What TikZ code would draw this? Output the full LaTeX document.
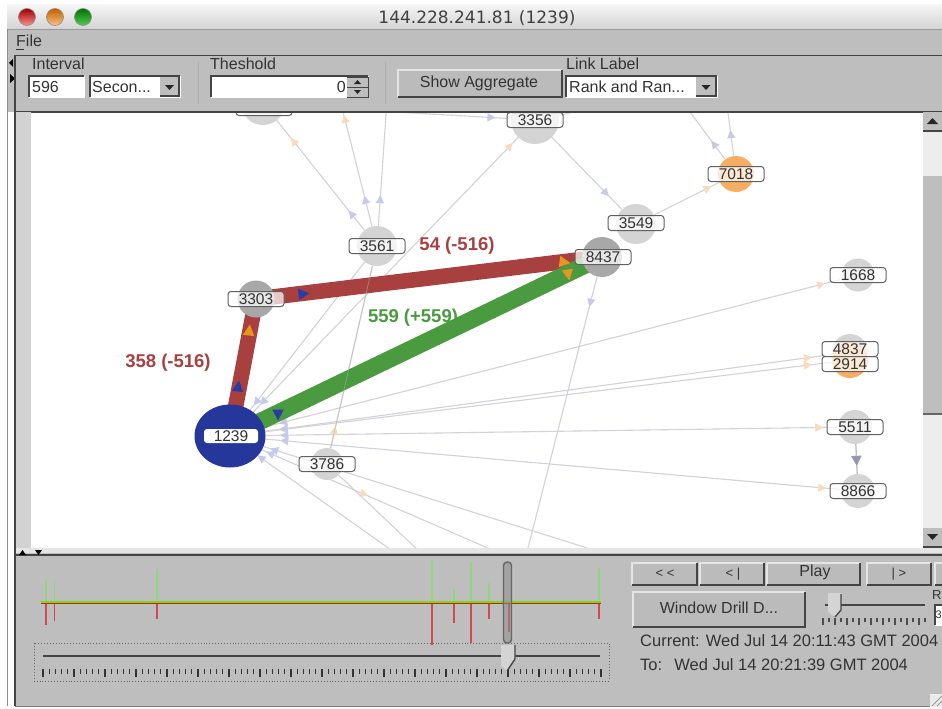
\documentclass[tikz,border=0pt]{standalone}
\usepackage{fontspec}
\setmainfont{Liberation Sans}
\newfontfamily\titlefont{DejaVu Sans}
\usetikzlibrary{shapes.geometric,calc}
\pgfdeclarelayer{canvaslayer}
\pgfdeclarelayer{edgelayer}
\pgfdeclarelayer{chrome}
\pgfsetlayers{canvaslayer,edgelayer,main,chrome}
\definecolor{panelc}{HTML}{BEBEBE}
\definecolor{darkc}{HTML}{444444}
\definecolor{textc}{HTML}{333333}
\definecolor{edgec}{HTML}{D2D2D8}
\definecolor{paleblue}{HTML}{C6C9E8}
\definecolor{paleorange}{HTML}{F9DABB}
\definecolor{tipblue}{HTML}{2B3BA3}
\definecolor{tiporange}{HTML}{E8951F}
\definecolor{redlink}{HTML}{A8403F}
\definecolor{greenlink}{HTML}{4A9A3F}
\definecolor{rednode}{HTML}{A8A8A8}
\definecolor{lightnode}{HTML}{D4D4D4}
\definecolor{orangenode}{HTML}{F6AE62}
\definecolor{navy}{HTML}{26379B}
\definecolor{tickgreen}{HTML}{8FD67F}
\definecolor{tickred}{HTML}{CE4A4F}
\tikzset{
  x=1pt,y=-1pt,
  asnode/.style={circle,inner sep=0pt,minimum size=#1,fill=lightnode},
  bigas/.style={asnode=#1,fill=rednode},
  asorange/.style={asnode=#1,fill=orangenode},
  aslabel/.style={draw=darkc!85,line width=1pt,rounded corners=3pt,fill=white,fill opacity=.72,text opacity=1,
     inner sep=0pt,minimum width=56pt,minimum height=15pt,font=\fontsize{15.5}{16}\selectfont,text=black!80},
  lnk/.style={draw=edgec,line width=1.1pt},
  tipbase/.style={isosceles triangle,isosceles triangle apex angle=55,inner sep=0pt,minimum size=8pt,sloped,draw=none,anchor=center,allow upside down},
  ptipf/.style={tipbase,fill=paleorange},
  ptipb/.style={tipbase,fill=paleblue,shape border rotate=180},
  ptipfb/.style={tipbase,fill=paleblue},
  ttip/.style={tipbase,fill=#1,minimum size=11pt},
  redthick/.style={draw=redlink,line width=15.5pt},
  greenthick/.style={draw=greenlink,line width=17pt},
  ui/.style={font=\fontsize{16}{18}\selectfont,text=textc,inner sep=0pt},
  timetext/.style={font=\fontsize{16.5}{18}\selectfont,text=textc,inner sep=0pt},
  biglabel/.style={font=\fontsize{18.5}{20}\selectfont\bfseries,inner sep=0pt},
  dark/.style={draw=darkc,line width=1.4pt},
}
\newcommand{\sunk}[4]{%
  \fill[white] (#1,#2) rectangle (#3,#4);
  \draw[dark] (#1,#4) -- (#1,#2) -- (#3,#2);
  \draw[draw=white,line width=1pt] (#3,#2) -- (#3,#4) -- (#1,#4);}
\newcommand{\raisedb}[4]{%
  \fill[panelc!105!white] (#1,#2) rectangle (#3,#4);
  \draw[draw=white!90!black,line width=1.2pt] (#1,#4) -- (#1,#2) -- (#3,#2);
  \draw[dark,line width=1.6pt] (#3,#2) -- (#3,#4) -- (#1,#4);}
\newcommand{\comboarrow}[4]{%
  \fill[panelc] (#1,#2) rectangle (#3,#4);
  \draw[dark,line width=1.6pt] (#3,#2) -- (#3,#4) -- (#1,#4);
  \fill[black!85] ($(#1,#2)!.5!(#3,#4)+(-4.5,-1.5)$) -- ++(9,0) -- ++(-4.5,5) -- cycle;}
\begin{document}
\begin{tikzpicture}
\useasboundingbox (0,0) rectangle (942,709);
\begin{pgfonlayer}{canvaslayer}
  \fill[white] (0,0) rectangle (942,709);
  \fill[white] (31,112) rectangle (923,548);
\end{pgfonlayer}

% AS nodes
\node[asnode=44pt] (n0) at (263,103) {};
\node[asnode=48pt] (n3356) at (535,120) {};
\node[asorange=36pt] (n7018) at (736,174) {};
\node[asnode=40pt] (n3549) at (636,224) {};
\node[asnode=40pt] (n3561) at (377,246) {};
\node[bigas=40pt] (n8437) at (602,257) {};
\node[bigas=37pt] (n3303) at (256,299) {};
\node[asnode=33pt] (n1668) at (858,275) {};
\node[asnode=36pt] (n4837) at (850,352) {};
\node[asorange=36pt] (n2914) at (850,360) {};
\node[asnode=34pt] (n5511) at (855,427) {};
\node[asnode=34pt] (n8866) at (858,491) {};
\node[asnode=32pt] (n3786) at (327,464) {};
\node[ellipse,fill=navy,inner sep=0pt,minimum width=71pt,minimum height=63pt] (n1239) at (230,436) {};

% free ends beyond the canvas
\coordinate (t1) at (340,100);
\coordinate (t2) at (387,100);
\coordinate (t3) at (395,112);
\coordinate (t4) at (690,112);
\coordinate (t5) at (727,105);
\coordinate (t6) at (585,110);
\coordinate (b1) at (394,552);
\coordinate (b2) at (420,552);
\coordinate (b3) at (497,552);
\coordinate (b4) at (600,552);
\coordinate (b5) at (527,552);

\begin{pgfonlayer}{edgelayer}
  % thin links
  \draw[lnk] (n1239) -- (n1668) node[pos=.962,ptipf] {} node[pos=.035,ptipb] {};
  \draw[lnk] (n1239) -- (n4837) node[pos=.955,ptipf] {} node[pos=.035,ptipb] {};
  \draw[lnk] (n1239) -- (n2914) node[pos=.955,ptipf] {} node[pos=.035,ptipb] {};
  \draw[lnk] (n1239) -- (n5511) node[pos=.965,ptipf] {} node[pos=.035,ptipb] {};
  \draw[lnk] (n1239) -- (n8866) node[pos=.965,ptipf] {} node[pos=.035,ptipb] {};
  \draw[lnk] (n1239) -- (b1) node[pos=.03,ptipb] {};
  \draw[lnk] (n1239) -- (b3) node[pos=.04,ptipb] {} node[pos=.43,ptipf] {};
  \draw[lnk] (n1239) -- (b4) node[pos=.035,ptipb] {};
  \draw[lnk] (n3786) -- (b2);
  \draw[lnk] (n3786) -- (n3561) node[pos=.09,ptipf] {};
  \draw[lnk] (n1239) -- (n3561) node[pos=.06,ptipb] {} node[pos=.8,ptipf] {};
  \draw[lnk] (n1239) -- (n3356) node[pos=.04,ptipb] {} node[pos=.965,ptipf] {};
  \draw[lnk] (n3561) -- (n0) node[pos=.14,ptipfb] {} node[pos=.8,ptipf] {};
  \draw[lnk] (n3561) -- (t1) node[pos=.2,ptipfb] {} node[pos=.84,ptipf] {};
  \draw[lnk] (n3561) -- (t2) node[pos=.2,ptipfb] {};
  \draw[lnk] (t3) -- (n3356) node[pos=.82,ptipf,fill=paleblue] {};
  \draw[lnk] (n3356) -- (t6);
  \draw[lnk] (n3356) -- (n3549) node[pos=.76,ptipf,fill=paleblue] {};
  \draw[lnk] (n3549) -- (n7018) node[pos=.8,ptipf] {};
  \draw[lnk] (n7018) -- (t4) node[pos=.3,ptipfb] {};
  \draw[lnk] (n7018) -- (t5) node[pos=.4,ptipfb] {};
  \draw[lnk] (n8437) -- (b5) node[pos=.09,ptipf,fill=paleblue] {};
  \draw[lnk,draw=black!25,line width=1.3pt] (n5511) -- (n8866) node[pos=.5,ptipf,fill=black!25!paleblue,minimum size=10pt] {};
  % thick links run under the discs, so they meet them without a gap
  \draw[redthick] (n1239.center) -- (n3303.center);
  \draw[redthick] (n3303.center) -- (n8437.center);
  \draw[greenthick] (n1239.center) -- (n8437.center);
  % thin links crossing over the thick ones
  \draw[draw=black!30,line width=.8pt,opacity=.5] (n3786) -- (n3561);
\end{pgfonlayer}

% arrowheads on thick links
\node[ttip=tipblue,rotate=83] (h1) at (238,388) {};
\node[ttip=tiporange,rotate=83] (h2) at (249,332) {};
\node[ttip=tipblue,rotate=5] (h3) at (302,294) {};
\node[ttip=tiporange,rotate=-8] (h4) at (563,262) {};
\node[ttip=tipblue,rotate=-90] (h5) at (278,413) {};
\node[ttip=tiporange,rotate=-80] (h6) at (568,273) {};

% labels
\node[aslabel] (l0) at (264,108) {};
\node[aslabel] (l3356) at (535,120) {3356};
\node[aslabel] (l7018) at (736,174) {7018};
\node[aslabel] (l3549) at (636,223) {3549};
\node[aslabel] (l3561) at (377,246) {3561};
\node[aslabel] (l8437) at (603,257) {8437};
\node[aslabel] (l3303) at (256,299) {3303};
\node[aslabel] (l1668) at (858,275) {1668};
\node[aslabel] (l4837) at (850,349) {4837};
\node[aslabel] (l2914) at (850,364) {2914};
\node[aslabel] (l5511) at (855,427) {5511};
\node[aslabel] (l8866) at (858,491) {8866};
\node[aslabel] (l3786) at (327,464) {3786};
\node[aslabel,draw=none,fill opacity=1,minimum width=54pt,minimum height=14pt] (l1239) at (231,436) {1239};

\node[biglabel,text=redlink] (e1) at (457,246) {54 (-516)};
\node[biglabel,text=greenlink] (e2) at (413,318) {559 (+559)};
\node[biglabel,text=redlink] (e3) at (168,363) {358 (-516)};

\begin{pgfonlayer}{chrome}
  % window frame and title bar
  \fill[white] (0,0) rectangle (7,709);
  \fill[panelc] (7,29) rectangle (942,112);
  \shade[top color=white!96!black,bottom color=black!17] (7,5) rectangle (942,29);
  \draw[draw=black!40,line width=1pt] (7,29.5) -- (942,29.5);
  \node[circle,inner sep=0pt,minimum size=17pt,draw=black!45,line width=.6pt,top color=red!60!black,bottom color=red!45!white] (wr) at (27,17) {};
  \node[circle,inner sep=0pt,minimum size=17pt,draw=black!45,line width=.6pt,top color=orange!75!black,bottom color=orange!50!white] (wo) at (55,17) {};
  \node[circle,inner sep=0pt,minimum size=17pt,draw=black!45,line width=.6pt,top color=green!45!black,bottom color=green!60!white!80!black] (wg) at (83,17) {};
  \node[font=\titlefont\fontsize{17}{19}\selectfont,text=black!75,inner sep=0pt] (title) at (477,18) {144.228.241.81 (1239)};
  \node[ui,anchor=west] (file) at (16,41) {File};
  \draw[textc,line width=.8pt] (16,49) -- (24,49);
  % toolbar
  \draw[dark,line width=1.6pt] (15,55.5) -- (942,55.5);
  \draw[dark,line width=1.6pt] (15,112) -- (942,112);
  \draw[draw=black!32,line width=1pt] (198,62) -- (198,104);
  \draw[draw=black!32,line width=1pt] (385,62) -- (385,104);
  \fill[black] (13,59) -- (13,67) -- (9,63) -- cycle;
  \fill[black] (10,74) -- (10,83) -- (15,78.5) -- cycle;
  \node[ui,anchor=west] (interval) at (32,64) {Interval};
  \node[ui,anchor=west] (theshold) at (210,64) {Theshold};
  \node[ui,anchor=west] (linklabel) at (566,64) {Link Label};
  \sunk{29}{76}{84}{97}
  \node[ui,anchor=west] (v596) at (32,87) {596};
  \sunk{90}{76}{180}{97}
  \comboarrow{160}{77}{179}{96}
  \node[ui,anchor=west] (vsec) at (92,87) {Secon...};
  \sunk{211}{76}{368}{97}
  \node[ui,anchor=east] (v0) at (346,87) {0};
  \fill[panelc] (347,77) rectangle (368,97);
  \draw[dark,line width=1pt] (347,77) -- (368,77) -- (368,97) -- (347,97) (347,87) -- (368,87);
  \fill[black!85] (354,84) -- (361,84) -- (357.5,80) -- cycle;
  \fill[black!85] (354,90) -- (361,90) -- (357.5,94) -- cycle;
  \raisedb{398}{70}{562}{97}
  \node[ui] (show) at (479,83) {Show Aggregate};
  \sunk{566}{76}{717}{97}
  \comboarrow{696}{77}{716}{96}
  \node[ui,anchor=west] (vrank) at (569,87) {Rank and Ran...};

  % left strip
  \fill[panelc!70!white] (16,112) rectangle (31,548);
  \draw[dark,line width=1.4pt] (15,55) -- (15,706);
  \draw[draw=black!45,line width=1pt] (7.5,29) -- (7.5,706);

  % scrollbar
  \fill[black!7] (923,112) rectangle (942,548);
  \fill[panelc] (923,112) rectangle (942,131);
  \draw[dark,line width=1.3pt] (923,131) -- (942,131);
  \fill[black!85] (927,124) -- (938,124) -- (932.5,118) -- cycle;
  \fill[panelc] (923,176) rectangle (942,413);
  \draw[draw=black!60,line width=1.2pt] (923,414) -- (942,414);
  \fill[panelc] (923,528) rectangle (942,547);
  \draw[dark,line width=1.3pt] (923,547) -- (942,547);
  \fill[black!85] (927,534) -- (938,534) -- (932.5,540) -- cycle;

  % splitter and lower panel
  \fill[panelc] (16,553) rectangle (942,706);
  \fill[black!10] (16,548) rectangle (942,553);
  \draw[dark,line width=1.8pt] (15,555) -- (942,555);
  \fill[black] (19,555) -- (26,555) -- (22.5,550) -- cycle;
  \fill[black] (35,550) -- (42,550) -- (38.5,555) -- cycle;
  \draw[draw=black!50,line width=1pt] (15,706.5) -- (942,706.5);
  \fill[white] (0,707) rectangle (942,709);

  % timeline
  \foreach \xx/\gy/\ry in {46/580/625,54.5/580/621,157/569/619,432/560/645,454/589/623,471/562/643,489/583/619,599/568/619}{
    \draw[draw=tickgreen,line width=1.4pt] (\xx,602) -- (\xx,\gy);
    \draw[draw=tickred,line width=1.4pt] (\xx,603) -- (\xx,\ry);
  }
  \draw[draw=tickred,line width=1.4pt] (509,603) -- (509,632);
  \draw[draw=green!60!yellow!75!gray,line width=1.2pt] (41,602) -- (601,602);
  \draw[draw=red!75!orange!85!black,line width=1pt] (41,603.3) -- (601,603.3);
  \draw[draw=black!60,fill=black!45,fill opacity=.55,line width=1.4pt,rounded corners=3.5pt] (503.5,562) rectangle (511.5,643);

  % time slider
  \draw[draw=black!60,line width=.9pt,dotted] (34,643) rectangle (609,681);
  \draw[dark,line width=2pt] (43,656) -- (600,656);
  \foreach \i in {0,...,90}{
    \pgfmathsetmacro{\xx}{43+\i*6.2}
    \pgfmathsetmacro{\yy}{mod(\i,5)==0 ? 677 : 674}
    \draw[draw=black!80,line width=1.2pt] (\xx,669) -- (\xx,\yy);
  }
  \fill[black!17] (501,645) -- (515,645) -- (515,659) -- (507,671) -- (501,666) -- cycle;
  \draw[dark,line width=1.4pt] (515,645) -- (515,659) -- (507,671);

  % player buttons
  \raisedb{632}{563}{697}{585}
  \node[ui,font=\fontsize{13}{15}\selectfont] (brew) at (665,574) {< <};
  \raisedb{700}{563}{764}{585}
  \node[ui,font=\fontsize{13}{15}\selectfont] (bback) at (733,574) {< |};
  \raisedb{767}{563}{860}{585}
  \node[ui] (bplay) at (815,572) {Play};
  \raisedb{867}{563}{931}{585}
  \node[ui,font=\fontsize{13}{15}\selectfont] (bfwd) at (899,574) {| >};
  \raisedb{935}{563}{960}{585}
  \raisedb{633}{592}{805}{627}
  \node[ui] (bdrill) at (719,608) {Window Drill D...};
  \draw[dark,line width=1.6pt] (825,605) -- (925,605);
  \fill[black!17] (828,593) -- (841,593) -- (841,610) -- (835,617) -- (828,612) -- cycle;
  \draw[dark,line width=1.3pt] (841,594) -- (841,610) -- (835,617);
  \foreach \i in {0,...,17}{
    \pgfmathsetmacro{\xx}{823+\i*6}
    \pgfmathsetmacro{\yy}{mod(\i,2)==0 ? 625 : 622}
    \draw[draw=black!70,line width=1.1pt] (\xx,618) -- (\xx,\yy);
  }
  \node[ui,anchor=west,font=\fontsize{13}{15}\selectfont] (rlabel) at (932,595) {R};
  \sunk{935}{605}{960}{625}
  \node[ui,anchor=west,font=\fontsize{11}{13}\selectfont] (rval) at (935.5,615) {3};
  \node[timetext,anchor=west] (cur) at (640,641) {Current: Wed Jul 14 20:11:43 GMT 2004};
  \node[timetext,anchor=west] (to) at (640,665) {To:\hspace{6pt} Wed Jul 14 20:21:39 GMT 2004};
  % resize grip
  \fill[white!92!black] (930,694) rectangle (942,707);
  \draw[draw=black!40,line width=.8pt] (932,706) -- (942,696) (937,706) -- (942,701);
\end{pgfonlayer}
\end{tikzpicture}
\end{document}
